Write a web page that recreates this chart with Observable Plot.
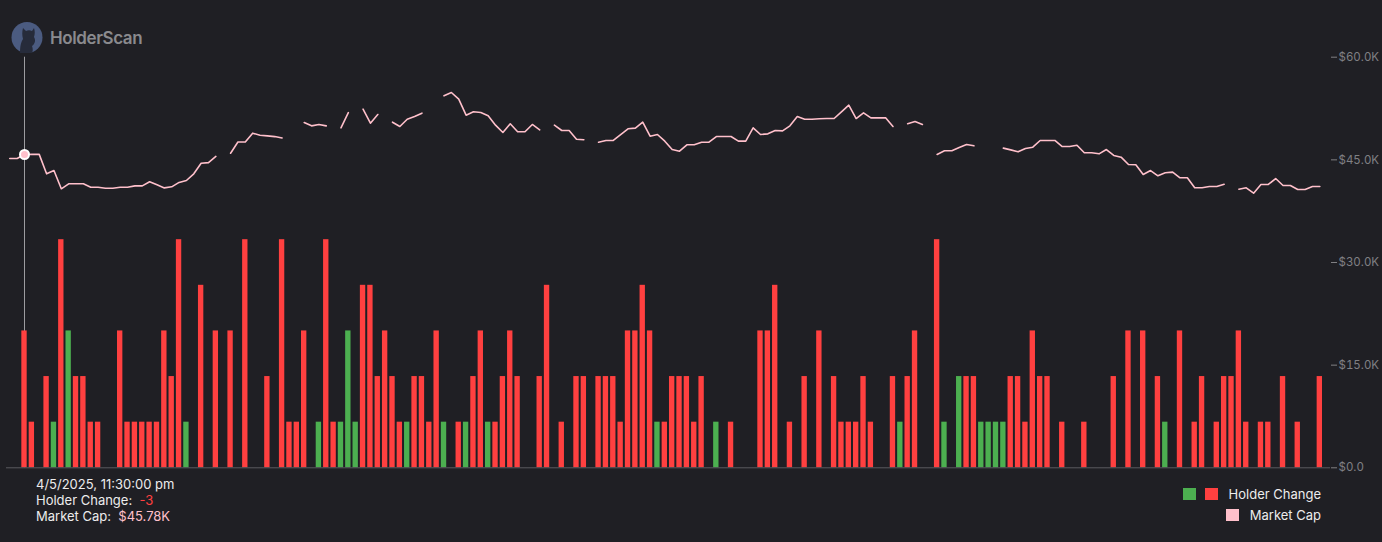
<!DOCTYPE html>
<html>
<head>
<meta charset="utf-8">
<script src="https://cdn.jsdelivr.net/npm/d3@7"></script>
<script src="https://cdn.jsdelivr.net/npm/@observablehq/plot@0.6"></script>
<style>
  html, body { margin: 0; padding: 0; background: #1f1f24; }
  #wrap { position: relative; width: 1382px; height: 542px; background: #1f1f24; overflow: hidden; font-family: Inter, "Noto Sans", sans-serif; }
  #chart { position: absolute; left: 0; top: 0; }
  #logo { position: absolute; left: 11px; top: 22px; display: flex; align-items: center; }
  #logo span { margin-left: 7px; color: #8a8a8e; font-size: 17px; font-weight: 600; letter-spacing: -0.4px; }
  #tip { position: absolute; left: 36px; top: 476px; color: #ececec; font-size: 13px; line-height: 16px; }
  #tip .neg { color: #ff4040; }
  #tip .cap { color: #ffc0cb; }
  #legend { position: absolute; right: 61px; top: 486px; color: #ececec; font-size: 13px; }
  #legend .row { display: flex; justify-content: flex-end; align-items: center; height: 16px; margin-bottom: 5px; }
  #legend .sw { width: 12.5px; height: 12.5px; display: inline-block; }
  #legend .lbl { margin-left: 11px; }
</style>
</head>
<body>
<div id="wrap">
  <div id="chart"></div>
  <div id="logo">
    <svg width="32" height="31" viewBox="0 0 32 31">
      <circle cx="16" cy="15.5" r="15.5" fill="#4b5b80"/>
      <path d="M9 31 C9 24 10 20 12 17 C11 13 11 10 12 6 L15 9 C17 8 19 8 21 9 L23 6 C24 9 24 12 23 15 C25 18 24 22 21 24 C22 27 22 29 21 31 Z" fill="#262b3a"/>
    </svg>
    <span>HolderScan</span>
  </div>
  <div id="tip">
    <div>4/5/2025, 11:30:00 pm</div>
    <div>Holder Change:&nbsp; <span class="neg">-3</span></div>
    <div>Market Cap:&nbsp; <span class="cap">$45.78K</span></div>
  </div>
  <div id="legend">
    <div class="row"><span class="sw" style="background:#4caf50"></span><span class="sw" style="background:#ff4040;margin-left:9.5px"></span><span class="lbl">Holder Change</span></div>
    <div class="row"><span class="sw" style="background:#ffc0cb"></span><span class="lbl">Market Cap</span></div>
  </div>
</div>
<script>
// Holder change per 30-min slot (0 = no change)
const holderChange = [
  0, 0, -3, -1, 0, -2, 1, -5, 3, -2,
  -2, -1, -1, 0, 0, -3, -1, -1, -1, -1,
  -1, -3, -2, -5, 1, 0, -4, 0, -3, 0,
  -3, 0, -5, 0, 0, -2, 0, -5, -1, -1,
  -3, 0, 1, -5, -1, 1, 3, 1, -4, -4,
  -2, -3, -2, -1, 1, -2, -2, -1, -3, 1,
  0, -1, 1, -2, -3, 1, -1, -2, -3, -2,
  0, 0, -2, -4, 0, -1, 0, -2, -2, 0,
  -2, -2, -2, -1, -3, -3, -4, -3, 1, -1,
  -2, -2, -2, -1, -2, 0, 1, 0, -1, 0,
  0, 0, -3, -3, -4, 0, -1, 0, -2, 0,
  -3, 0, -2, -1, -1, -1, -2, -1, 0, 0,
  -2, 1, -2, -3, 0, 0, -5, 1, 0, 2,
  -2, -2, 1, 1, 1, 1, -2, -2, -1, -3,
  -2, -2, 0, -1, 0, 0, -1, 0, 0, 0,
  -2, 0, -3, 0, -3, 0, -2, 1, 0, -3,
  0, -1, -2, 0, -1, -2, -2, -3, -1, 0,
  -1, -1, 0, -2, 0, -1, 0, 0, -2
];

// Market cap in $K per slot (null = no data)
const marketCapK = [
  45.2, 45.2, 45.78, 45.8, 45.8, 42.96, 43.44, 40.77, 41.5, 41.5,
  41.5, 41.0, 41.0, 40.86, 40.86, 41.0, 41.0, 41.2, 41.2, 41.8,
  41.35, 40.9, 41.06, 41.7, 41.98, 42.96, 44.5, 44.6, 45.5, null,
  45.97, 47.6, 47.6, 48.9, 48.6, 48.5, 48.4, 48.2, null, null,
  50.46, 49.97, 50.17, 49.97, null, 49.68, 51.9, null, 52.4, 50.36,
  51.63, null, 50.5, 49.87, 50.94, 51.33, 51.82, null, null, 54.36,
  54.84, 53.87, 51.53, 52.02, 51.92, 51.44, 50.07, 49.0, 50.27, 49.1,
  49.1, 50.17, 49.39, null, 50.07, 49.29, 49.29, 48.02, 47.93, null,
  47.58, 47.83, 47.83, 48.7, 49.54, 49.63, 50.5, 48.46, 48.7, 47.73,
  46.51, 46.27, 47.2, 47.2, 47.58, 47.58, 48.41, 48.41, 48.41, 47.73,
  47.73, 49.68, 48.7, 48.8, 49.29, 49.24, 49.97, 51.33, 50.94, 50.94,
  51.0, 51.04, 51.04, 52.02, 52.99, 51.04, 51.87, 51.14, 51.14, 51.14,
  49.87, null, 50.27, 50.6, 50.17, null, 45.78, 46.32, 46.32, 46.8,
  47.24, 47.05, null, null, null, 46.71, 46.46, 46.17, 46.66, 46.85,
  47.83, 47.83, 47.83, 46.95, 46.95, 47.14, 46.03, 46.03, 45.88, 46.51,
  45.64, 45.39, 44.32, 44.28, 42.86, 43.44, 42.67, 43.11, 43.2, 42.38,
  42.38, 40.92, 40.92, 41.1, 41.1, 41.44, null, 40.71, 40.92, 40.13,
  41.4, 41.4, 42.27, 41.25, 41.25, 40.67, 40.67, 41.1, 41.1
];

const yTicks = [0, 15000, 30000, 45000, 60000];
const HOLDER_AXIS_MAX = 9;          // hidden holder-change axis top
const CAP_AXIS_MAX = 60000;
const selectedSlot = 2;

const green = "#4caf50", red = "#ff4040", pink = "#ffc0cb";
const unit = CAP_AXIS_MAX / HOLDER_AXIS_MAX;

const rows = holderChange.map((c, i) => ({
  i, change: c, cap: marketCapK[i] == null ? null : marketCapK[i] * 1000
}));
const gains = rows.filter(d => d.change > 0);
const losses = rows.filter(d => d.change < 0);
const sel = rows.filter(d => d.i === selectedSlot);

const fmt = v => v === 0 ? "$0.0" : "$" + (v / 1000).toFixed(1) + "K";

const chart = Plot.plot({
  width: 1382,
  height: 475,
  marginLeft: 6,
  marginRight: 52,
  marginTop: 56.7,
  marginBottom: 7.7,
  style: { background: "transparent", fontFamily: "Inter, 'Noto Sans', sans-serif", fontSize: "11.5px", overflow: "visible" },
  x: { domain: [-0.446, 179.45], axis: null },
  y: { domain: [0, CAP_AXIS_MAX], axis: null },
  marks: [
    Plot.ruleX(sel, { x: "i", y1: 0, y2: CAP_AXIS_MAX, stroke: "#9c9ca0", strokeWidth: 1 }),
    Plot.rectY(losses, { x1: d => d.i - 0.5, x2: d => d.i + 0.5, y1: 0, y2: d => Math.abs(d.change) * unit, fill: red, insetLeft: 1, insetRight: 1 }),
    Plot.rectY(gains, { x1: d => d.i - 0.5, x2: d => d.i + 0.5, y1: 0, y2: d => Math.abs(d.change) * unit, fill: green, insetLeft: 1, insetRight: 1 }),
    Plot.ruleY([0], { stroke: "#5a5a60", strokeWidth: 1 }),
    Plot.axisY({ anchor: "right", ticks: yTicks, tickSize: 6, tickPadding: 2, tickFormat: fmt, label: null, color: "#808084" }),
    Plot.line(rows, { x: "i", y: "cap", stroke: pink, strokeWidth: 1.6 }),
    Plot.dot(sel, { x: "i", y: "cap", r: 4.5, fill: pink, stroke: "#ffffff", strokeWidth: 2 })
  ]
});
document.getElementById("chart").appendChild(chart);
</script>
</body>
</html>
